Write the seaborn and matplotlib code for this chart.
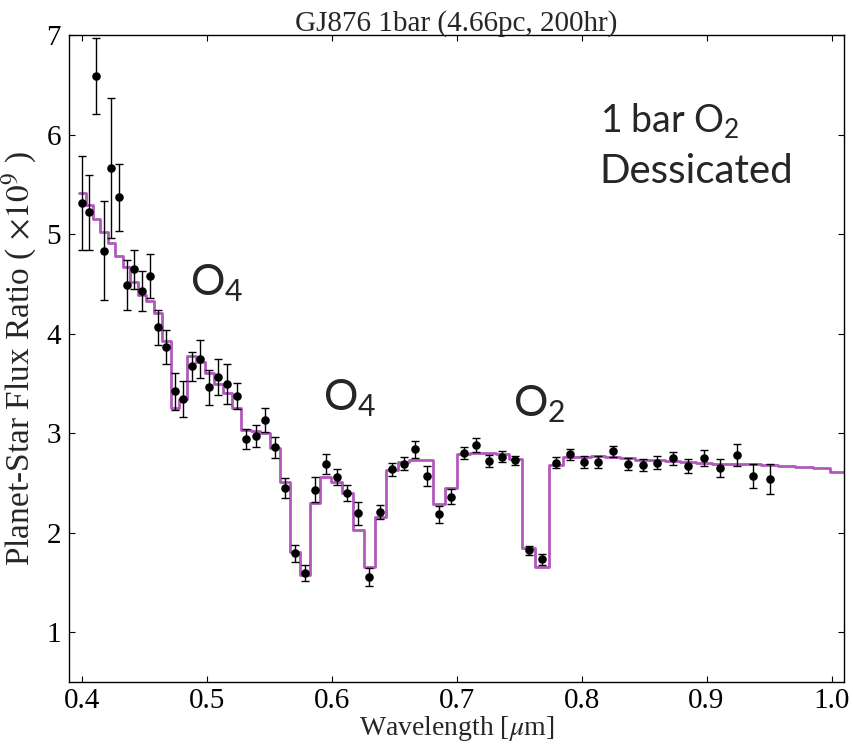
import numpy as np
import pandas as pd
import matplotlib
matplotlib.use("Agg")
import matplotlib.pyplot as plt
import seaborn as sns

# Binned observation: wavelength [um], planet-star flux ratio (x1e9), 1-sigma error
wavelength = [0.4005, 0.4058, 0.4114, 0.4176, 0.4237, 0.4298, 0.4360, 0.4418, 0.4482, 0.4546,
              0.4613, 0.4677, 0.4744, 0.4810, 0.4880, 0.4949, 0.5021, 0.5093, 0.5165, 0.5240,
              0.5314, 0.5392, 0.5466, 0.5546, 0.5624, 0.5704, 0.5786, 0.5869, 0.5952, 0.6040,
              0.6125, 0.6213, 0.6301, 0.6389, 0.6480, 0.6576, 0.6669, 0.6765, 0.6861, 0.6957,
              0.7056, 0.7157, 0.7261, 0.7362, 0.7469, 0.7576, 0.7685, 0.7794, 0.7904, 0.8018,
              0.8133, 0.8248, 0.8368, 0.8488, 0.8605, 0.8730, 0.8853, 0.8981, 0.9109, 0.9240,
              0.9370, 0.9504]
flux_obs = [5.315, 5.218, 6.590, 4.833, 5.663, 5.369, 4.487, 4.645, 4.430, 4.581,
            4.065, 3.864, 3.419, 3.339, 3.673, 3.744, 3.459, 3.563, 3.496, 3.375,
            2.943, 2.970, 3.131, 2.856, 2.450, 1.794, 1.593, 2.430, 2.690, 2.555,
            2.400, 2.196, 1.553, 2.206, 2.638, 2.692, 2.839, 2.568, 2.183, 2.360,
            2.799, 2.883, 2.722, 2.762, 2.726, 1.821, 1.734, 2.705, 2.789, 2.709,
            2.709, 2.819, 2.692, 2.682, 2.705, 2.746, 2.668, 2.749, 2.651, 2.779,
            2.571, 2.538]
flux_err = [0.470, 0.380, 0.380, 0.500, 0.700, 0.340, 0.250, 0.200, 0.200, 0.220,
            0.175, 0.170, 0.190, 0.180, 0.145, 0.190, 0.180, 0.180, 0.200, 0.130,
            0.100, 0.107, 0.117, 0.110, 0.100, 0.085, 0.080, 0.125, 0.100, 0.080,
            0.080, 0.117, 0.090, 0.070, 0.067, 0.067, 0.085, 0.100, 0.090, 0.075,
            0.063, 0.070, 0.060, 0.055, 0.045, 0.047, 0.055, 0.060, 0.055, 0.060,
            0.060, 0.055, 0.063, 0.063, 0.067, 0.067, 0.072, 0.080, 0.088, 0.107,
            0.122, 0.150]

# Binned model spectrum on the same resolution grid (left bin edge first), extended past 1 um
wavelength_model = [0.3979] + wavelength + [0.9641, 0.9778, 0.9918, 1.0060, 1.0203]
flux_model = [5.415,
              5.415, 5.291, 5.148, 5.023, 4.906, 4.779, 4.665, 4.521, 4.387, 4.330,
              4.203, 3.925, 3.248, 3.339, 3.774, 3.717, 3.600, 3.493, 3.405, 3.248,
              3.030, 3.020, 2.997, 2.846, 2.510, 1.807, 1.573, 2.300, 2.561, 2.510,
              2.400, 2.025, 1.656, 2.159, 2.628, 2.712, 2.735, 2.735, 2.293, 2.450,
              2.789, 2.802, 2.796, 2.789, 2.739, 1.847, 1.656, 2.678, 2.756, 2.762,
              2.769, 2.762, 2.746, 2.735, 2.729, 2.722, 2.712, 2.705, 2.695, 2.688,
              2.685, 2.678, 2.672, 2.662, 2.645, 2.611, 2.600]

x_ticks = [0.4, 0.5, 0.6, 0.7, 0.8, 0.9, 1.0]
x_ticklabels = ["0.4", "0.5", "0.6", "0.7", "0.8", "0.9", "1.0"]
y_ticks = [1, 2, 3, 4, 5, 6, 7]

obs = pd.DataFrame({"wl": wavelength, "flux": flux_obs, "err": flux_err})
model = pd.DataFrame({"wl": wavelength_model, "flux": flux_model})

sns.set_style("ticks")
plt.rcParams["font.family"] = ["Liberation Serif", "DejaVu Serif"]
plt.rcParams["mathtext.fontset"] = "stix"

fig = plt.figure(figsize=(8.54, 7.45), dpi=100)
ax = fig.add_axes([0.0811, 0.0846, 0.9883 - 0.0811, 0.953 - 0.0846])

# model drawn as a binned (stepped) spectrum
model_color = "#b05ab9"
sns.lineplot(data=model, x="wl", y="flux", ax=ax, color=model_color, lw=2.0,
             drawstyle="steps-mid", zorder=2, legend=False, sort=False)
ax.errorbar(obs["wl"], obs["flux"], yerr=obs["err"], fmt="none", ecolor="black",
            elinewidth=1.0, capsize=2.6, capthick=1.0, zorder=3)
sns.scatterplot(data=obs, x="wl", y="flux", ax=ax, color="black", s=38,
                edgecolor="black", linewidth=0, zorder=4, legend=False)

ax.set_xlim(0.39, 1.01)
ax.set_ylim(0.5, 7.0)
ax.set_xticks(x_ticks)
ax.set_xticklabels(x_ticklabels)
ax.set_yticks(y_ticks)
ax.tick_params(direction="in", length=4, width=0.8, top=True, right=True,
               labelsize=21, colors="black")
ax.tick_params(axis="x", pad=4)
ax.tick_params(axis="y", pad=6)
for s in ax.spines.values():
    s.set_linewidth(1.0)
    s.set_color("black")

ax.set_xlabel(r"Wavelength [$\mu$m]", fontsize=20, labelpad=0)
ax.set_ylabel(r"Planet-Star Flux Ratio ( $\times 10^9$ )", fontsize=24, labelpad=5)
ax.set_title("GJ876 1bar (4.66pc, 200hr)", fontsize=21, pad=3)

sans = "Lato"
ax.text(0.4867, 4.387, r"$\mathregular{O_4}$", fontsize=31, family=sans,
        ha="left", va="baseline")
ax.text(0.5933, 3.231, r"$\mathregular{O_4}$", fontsize=31, family=sans,
        ha="left", va="baseline")
ax.text(0.7448, 3.171, r"$\mathregular{O_2}$", fontsize=31, family=sans,
        ha="left", va="baseline")
ax.text(0.8146, 6.025, r"$\mathregular{1\ bar\ O_2}$", fontsize=27, family=sans,
        ha="left", va="baseline")
ax.text(0.8146, 5.513, "Dessicated", fontsize=29, family=sans,
        ha="left", va="baseline")

fig.savefig("out.png", dpi=100)
